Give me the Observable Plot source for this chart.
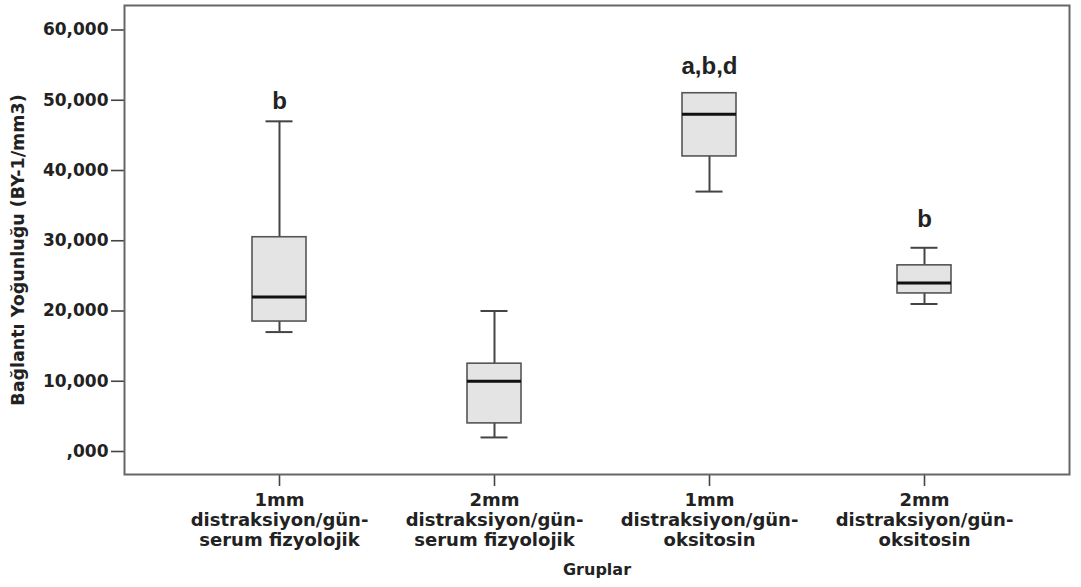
<!DOCTYPE html>
<html><head><meta charset="utf-8">
<script src="https://cdn.jsdelivr.net/npm/d3@7"></script>
<script src="https://cdn.jsdelivr.net/npm/@observablehq/plot@0.6"></script>
<style>body{margin:0;background:#fff;}</style>
</head><body><div id="chart"></div>
<script>
const groups = ["1mm-SF", "2mm-SF", "1mm-OX", "2mm-OX"];
const groupLabels = [
  "1mm\ndistraksiyon/gün-\nserum fizyolojik",
  "2mm\ndistraksiyon/gün-\nserum fizyolojik",
  "1mm\ndistraksiyon/gün-\noksitosin",
  "2mm\ndistraksiyon/gün-\noksitosin"
];
const whiskerLow  = [17000, 2000, 37000, 21000];
const q1          = [18500, 4000, 42000, 22500];
const median      = [22000, 10000, 48000, 24000];
const q3          = [30500, 12500, 51000, 26500];
const whiskerHigh = [47000, 20000, 51000, 29000];
const sigLabels   = ["b", "", "a,b,d", "b"];
const sigLabelAt  = [49800, 0, 54900, 33100];
const yTicks      = [0, 10000, 20000, 30000, 40000, 50000, 60000];
const yTickLabels = [",000", "10,000", "20,000", "30,000", "40,000", "50,000", "60,000"];
const yTitle = "Bağlantı Yoğunluğu (BY-1/mm3)";
const xTitle = "Gruplar";

const rows = groups.map((g, i) => ({
  group: g, lo: whiskerLow[i], q1: q1[i], med: median[i], q3: q3[i], hi: whiskerHigh[i],
  sig: sigLabels[i], sigY: sigLabelAt[i]
}));

const chart = Plot.plot({
  width: 1081, height: 587,
  marginLeft: 124, marginRight: 12, marginTop: 5, marginBottom: 113,
  style: {fontFamily: "DejaVu Sans", fontWeight: "bold", background: "#fff", color: "#222"},
  x: {type: "band", domain: groups, paddingInner: 0.749, paddingOuter: 0.57, align: 0.52},
  y: {domain: [-3274, 63488]},
  marks: [
    Plot.ruleX(rows, {x: "group", y1: "lo", y2: "hi", stroke: "#444", strokeWidth: 2}),
    Plot.tickY(rows, {x: "group", y: "lo", inset: 13.5, stroke: "#444", strokeWidth: 2}),
    Plot.tickY(rows, {x: "group", y: "hi", inset: 13.5, stroke: "#444", strokeWidth: 2}),
    Plot.barY(rows, {x: "group", y1: "q1", y2: "q3", fill: "#e4e4e4", stroke: "#555", strokeWidth: 1.6}),
    Plot.tickY(rows, {x: "group", y: "med", stroke: "#111", strokeWidth: 3}),
    Plot.text(rows.filter(d => d.sig), {x: "group", y: "sigY", text: "sig",
      fontFamily: "Liberation Sans", fontSize: 24, fontWeight: "bold", fill: "#222"}),
    Plot.axisY({ticks: yTicks, tickFormat: d => yTickLabels[yTicks.indexOf(d)],
      tickSize: 13, tickPadding: 3, fontSize: 17, label: null, stroke: "#444", strokeWidth: 1.6, fill: "#222"}),
    Plot.axisX({tickFormat: d => groupLabels[groups.indexOf(d)], tickSize: 12, tickPadding: 5,
      fontSize: 18, lineHeight: 1.11, label: null, stroke: "#444", strokeWidth: 1.6, fill: "#222"}),
    Plot.frame({stroke: "#666", strokeWidth: 2}),
    Plot.text([yTitle], {frameAnchor: "left", textAnchor: "middle", rotate: -90, dx: -106, dy: 10, fontSize: 17.5, fill: "#222"}),
    Plot.text([xTitle], {frameAnchor: "bottom", textAnchor: "middle", dy: 100, fontSize: 16, fill: "#222"})
  ]
});
document.getElementById("chart").appendChild(chart);
</script>
</body></html>
